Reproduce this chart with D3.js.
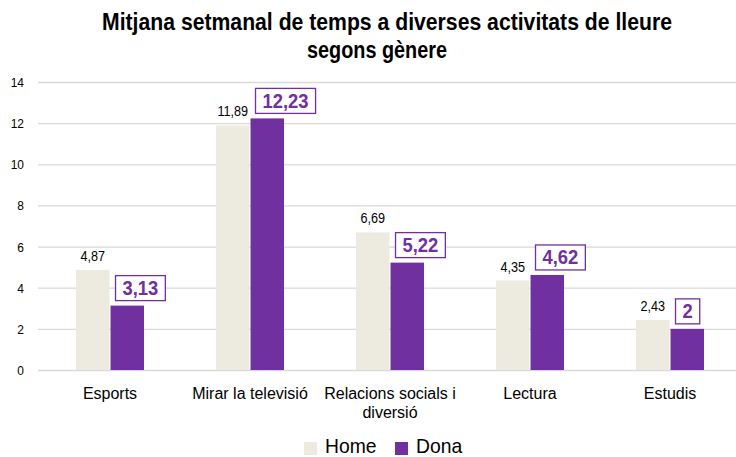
<!DOCTYPE html>
<html><head><meta charset="utf-8">
<script src="https://cdn.jsdelivr.net/npm/d3@7"></script>
<style>
body{margin:0;background:#fff;}
svg{display:block;font-family:"Liberation Sans Narrow","Arial Narrow","Liberation Sans",Arial,sans-serif;}
</style></head>
<body>
<svg id="c" width="736" height="457"></svg>
<script>
const categories = [["Esports"],["Mirar la televisió"],["Relacions socials i","diversió"],["Lectura"],["Estudis"]];
const home = [4.87, 11.89, 6.69, 4.35, 2.43];
const dona = [3.13, 12.23, 5.22, 4.62, 2];
const homeLabels = ["4,87","11,89","6,69","4,35","2,43"];
const donaLabels = ["3,13","12,23","5,22","4,62","2"];
const yTicks = [0,2,4,6,8,10,12,14];
const series = ["Home","Dona"];
const titleLines = ["Mitjana setmanal de temps a diverses activitats de lleure","segons gènere"];
const colors = {Home:"#EDEBE0", Dona:"#7030A0"};

const svg = d3.select("#c");
const W = 736, H = 457;
const x0 = d3.scaleBand().domain(d3.range(categories.length)).range([40, 740]).paddingInner(0).paddingOuter(0);
const x1 = d3.scaleBand().domain(series).range([x0.bandwidth()/2 - 34, x0.bandwidth()/2 + 34]).paddingInner(0.03);
const y = d3.scaleLinear().domain([0,14]).range([370, 82]);

// condense helper (imitates a narrow font)
function condense(sel, f){
  sel.each(function(){
    const w = this.getComputedTextLength();
    d3.select(this).attr("textLength", w*f).attr("lengthAdjust","spacingAndGlyphs");
  });
}

// title
const tPos = [[387,30,570],[377,58,140]];
titleLines.forEach((s,k)=>{
  svg.append("text").attr("x",tPos[k][0]).attr("y",tPos[k][1]).attr("text-anchor","middle")
    .attr("font-weight","bold").attr("font-size",23).attr("fill","#000")
    .attr("textLength",tPos[k][2]).attr("lengthAdjust","spacingAndGlyphs")
    .text(s);
});

// grid
const yAxis = d3.axisLeft(y).tickValues(yTicks).tickSize(-(W-38)).tickPadding(14).tickFormat(d3.format("d"));
const ga = svg.append("g").attr("transform","translate(38,0)").call(yAxis);
ga.select(".domain").remove();
ga.selectAll(".tick line").attr("stroke","#D9D9D9").attr("stroke-width",1.3);
ga.selectAll(".tick text").attr("font-size",13).attr("fill","#000").attr("dy","0.35em").attr("x",-14);
condense(ga.selectAll(".tick text"),0.92);

// bars
const groups = svg.append("g").selectAll("g").data(categories).join("g")
  .attr("transform",(d,i)=>`translate(${x0(i)},0)`);
groups.append("rect").attr("x",x1("Home")).attr("width",x1.bandwidth())
  .attr("y",(d,i)=>y(home[i])).attr("height",(d,i)=>y(0)-y(home[i])).attr("fill",colors.Home);
groups.append("rect").attr("x",x1("Dona")).attr("width",x1.bandwidth())
  .attr("y",(d,i)=>y(dona[i])).attr("height",(d,i)=>y(0)-y(dona[i])).attr("fill",colors.Dona);

// home labels
const hl = groups.append("text").attr("x",x1("Home")+x1.bandwidth()/2).attr("y",(d,i)=>y(home[i])-9)
  .attr("text-anchor","middle").attr("font-size",14).attr("fill","#000")
  .text((d,i)=>homeLabels[i]);
condense(hl,0.9);

// dona labels with box
groups.each(function(d,i){
  const g = d3.select(this);
  const t = g.append("text").attr("font-size",20).attr("font-weight","bold").attr("fill","#7030A0")
    .attr("text-anchor","start").text(donaLabels[i]);
  const bw = t.node().getComputedTextLength()*0.92;
  t.attr("textLength",bw).attr("lengthAdjust","spacingAndGlyphs");
  const boxW = bw + 14, boxH = 25;
  const left = x1("Dona") + 5;
  const bottom = y(dona[i]) - 5;
  g.insert("rect", "text:last-of-type").attr("x",left).attr("y",bottom-boxH).attr("width",boxW).attr("height",boxH)
    .attr("fill","#fff").attr("stroke","#7030A0").attr("stroke-width",1.3);
  t.attr("x",left+7).attr("y",bottom-5.5);
});

// category labels
groups.append("text").attr("text-anchor","middle").attr("font-size",16).attr("fill","#000")
  .attr("transform",`translate(${x0.bandwidth()/2},0)`)
  .selectAll("tspan").data(d=>d).join("tspan")
  .attr("x",0).attr("y",(d,j)=>399+j*19).text(d=>d);

// legend
const leg = svg.append("g");
const legX = [304, 395];
series.forEach((s,k)=>{
  leg.append("rect").attr("x",legX[k]).attr("y",442).attr("width",13).attr("height",13).attr("fill",colors[s]);
  const lt = leg.append("text").attr("x",legX[k]+21).attr("y",453).attr("font-size",21).attr("fill","#000").text(s);
  condense(lt,0.92);
});
</script>
</body></html>
